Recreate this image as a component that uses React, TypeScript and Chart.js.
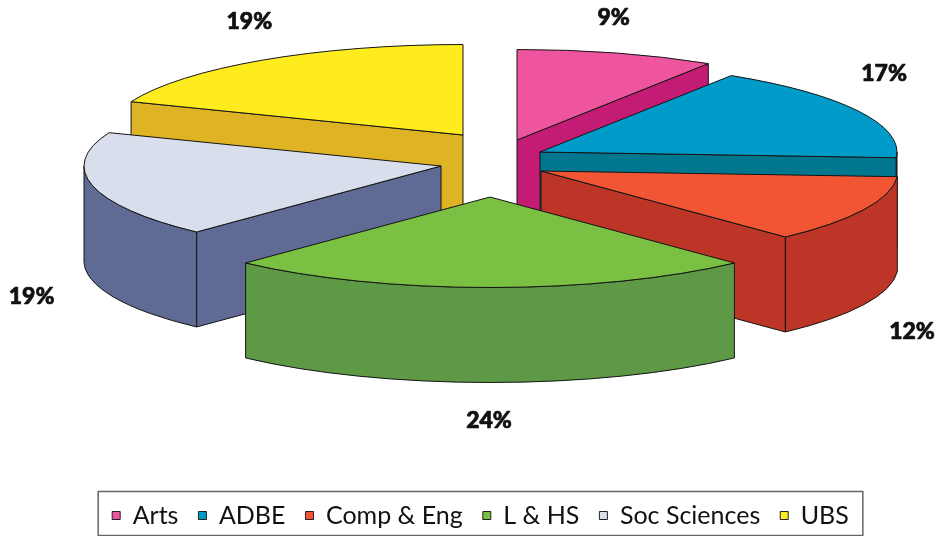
import React, { useEffect, useRef } from "react";
import { Chart, registerables } from "chart.js";

Chart.register(...registerables);

const categories = ["Arts", "ADBE", "Comp & Eng", "L & HS", "Soc Sciences", "UBS"];
const shares = [9, 17, 12, 24, 19, 19];
const topColors = ["#EE559E", "#009BC9", "#F15533", "#7AC143", "#D8DEEB", "#FFEC1F"];
const wallColors = ["#C41C74", "#00778F", "#BD3526", "#5E9946", "#5F6B94", "#DEB425"];

// Per-slice explosion from the pie centre, in screen pixels.
const explodeX = [36.5, 59.5, 60.5, 9.5, -39.5, -17.5];
const explodeY = [-101.5, -89.5, -70.5, -44.5, -75.5, -106.5];
// Where each percentage sits relative to the middle of its slice's rim.
const labelNudgeX = [-3, 26, 48, -1, -61, -13];
const labelNudgeY = [-36, -37, 122, 133, 111, -39];

const PIE_RADIUS = 357;
const TILT = 0.2535;
const DEPTH = 95;
const EDGE = "#141414";

const FONT = "Lato, 'Open Sans', sans-serif";

const extrudedPie = {
  id: "extrudedPie",
  beforeDatasetsDraw(chart: any) {
    const ctx: CanvasRenderingContext2D = chart.ctx;
    const arcs = chart.getDatasetMeta(0).data;

    const slices = arcs.map((arc: any, i: number) => {
      const { x, y, startAngle, endAngle, outerRadius } = arc.getProps(
        ["x", "y", "startAngle", "endAngle", "outerRadius"],
        true
      );
      const ax = x + explodeX[i];
      const ay = y + explodeY[i];
      const rx = outerRadius;
      const ry = outerRadius * TILT;
      const mid = (startAngle + endAngle) / 2;
      const rimMidY = ay + ry * Math.sin(mid);
      return { i, ax, ay, rx, ry, startAngle, endAngle, mid, order: ay + ry * Math.sin(mid) * 0.66, rimMidY };
    });

    // Paint from the back of the tilted pie to the front.
    const sorted = [...slices].sort((a: any, b: any) => a.order - b.order);

    ctx.save();
    ctx.lineJoin = "round";
    ctx.lineWidth = 1;
    ctx.strokeStyle = EDGE;

    const paint = (fill: string) => {
      ctx.fillStyle = fill;
      ctx.fill();
      ctx.stroke();
    };

    for (const s of sorted) {
      const { ax, ay, rx, ry, startAngle, endAngle } = s;
      const wall = wallColors[s.i];
      const sx = ax + rx * Math.cos(startAngle);
      const sy = ay + ry * Math.sin(startAngle);
      const ex = ax + rx * Math.cos(endAngle);
      const ey = ay + ry * Math.sin(endAngle);

      // Cut faces: only those running leftward along the clockwise outline face the viewer.
      const cutFace = (px: number, py: number) => {
        ctx.beginPath();
        ctx.moveTo(ax, ay);
        ctx.lineTo(px, py);
        ctx.lineTo(px, py + DEPTH);
        ctx.lineTo(ax, ay + DEPTH);
        ctx.closePath();
        paint(wall);
      };
      if (sx < ax) cutFace(sx, sy);
      if (ex > ax) cutFace(ex, ey);

      // Outer rim: the part of the arc on the near half of the ellipse.
      for (const turn of [0, 2 * Math.PI]) {
        const a0 = Math.max(startAngle, turn);
        const a1 = Math.min(endAngle, turn + Math.PI);
        if (a1 > a0) {
          ctx.beginPath();
          ctx.ellipse(ax, ay, rx, ry, 0, a0, a1);
          ctx.ellipse(ax, ay + DEPTH, rx, ry, 0, a1, a0, true);
          ctx.closePath();
          paint(wall);
        }
      }

      // Top face.
      ctx.beginPath();
      ctx.moveTo(ax, ay);
      ctx.ellipse(ax, ay, rx, ry, 0, startAngle, endAngle);
      ctx.closePath();
      paint(topColors[s.i]);
    }

    // Percentage labels, thickened a touch for a heavier weight.
    ctx.fillStyle = "#111";
    ctx.strokeStyle = "#111";
    ctx.lineWidth = 0.7;
    ctx.font = `900 23px ${FONT}`;
    ctx.textAlign = "center";
    ctx.textBaseline = "middle";
    for (const s of slices) {
      const lx = s.ax + s.rx * Math.cos(s.mid) + labelNudgeX[s.i];
      const ly = s.rimMidY + labelNudgeY[s.i];
      ctx.fillText(`${shares[s.i]}%`, lx, ly);
      ctx.strokeText(`${shares[s.i]}%`, lx, ly);
    }
    ctx.restore();
    return false;
  },
};

const legendFrame = {
  id: "legendFrame",
  afterDraw(chart: any) {
    const boxes = chart.legend?.legendHitBoxes;
    if (!boxes?.length) return;
    const ctx: CanvasRenderingContext2D = chart.ctx;
    const first = boxes[0];
    const last = boxes[boxes.length - 1];
    const midY = first.top + first.height / 2;
    ctx.save();
    ctx.strokeStyle = "#666";
    ctx.lineWidth = 1.5;
    ctx.strokeRect(first.left - 14, midY - 24, last.left + last.width - first.left + 28, 44);
    ctx.restore();
  },
};

export default function App() {
  const ref = useRef<HTMLCanvasElement>(null);

  useEffect(() => {
    document.body.style.margin = "0";
    const chart = new Chart(ref.current as HTMLCanvasElement, {
      type: "pie",
      data: {
        labels: categories,
        datasets: [
          {
            data: shares,
            backgroundColor: topColors,
            borderColor: "#222",
            borderWidth: 1,
          },
        ],
      },
      options: {
        responsive: false,
        animation: false,
        radius: PIE_RADIUS,
        layout: { padding: { bottom: -2, left: 20 } },
        plugins: {
          tooltip: { enabled: false },
          legend: {
            position: "bottom",
            labels: {
              boxWidth: 8,
              boxHeight: 8,
              padding: 20,
              color: "#111",
              font: { family: FONT, size: 25 },
            },
          },
        },
      } as any,
      plugins: [extrudedPie, legendFrame],
    });
    return () => chart.destroy();
  }, []);

  return <canvas ref={ref} width={941} height={536} style={{ display: "block" }} />;
}
